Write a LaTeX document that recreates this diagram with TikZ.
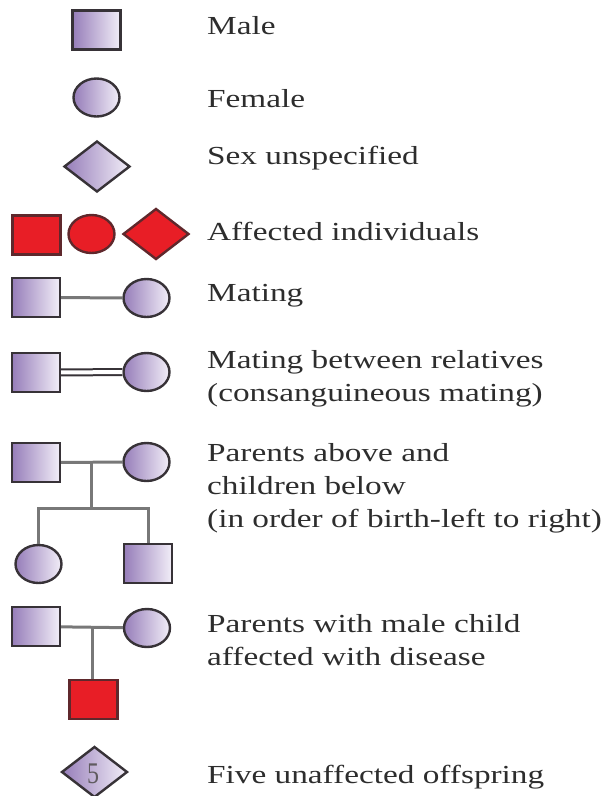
\documentclass[tikz,border=0pt]{standalone}
\usepackage{fontspec}
\setmainfont{Liberation Serif}
\newfontfamily\widefont[FakeStretch=1.28]{Liberation Serif}
\newfontfamily\slimfont[FakeStretch=0.8]{Liberation Serif}
\usepackage{tikz}
\usetikzlibrary{shapes.geometric,calc}

\definecolor{lavdark}{RGB}{150,125,185}
\definecolor{lavlight}{RGB}{242,238,248}
\definecolor{sickred}{RGB}{232,30,38}
\definecolor{rim}{RGB}{55,50,55}
\definecolor{wire}{RGB}{120,120,120}
\definecolor{ink}{RGB}{45,45,45}

\tikzset{
  sym/.style={draw=rim, line width=2.4pt, inner sep=0pt, left color=lavdark, right color=lavlight},
  male/.style={sym, rectangle, minimum width=48pt, minimum height=39pt},
  female/.style={sym, ellipse, minimum width=46pt, minimum height=38pt},
  unknown/.style={sym, diamond, minimum width=66pt, minimum height=51pt},
  affected/.style={fill=sickred, draw=rim!80!red, left color=sickred, right color=sickred},
  link/.style={draw=wire, line width=3pt},
  legend/.style={anchor=west, align=left, text=ink, inner sep=0pt,
    font=\widefont\fontsize{26}{33}\selectfont}
}

\begin{document}
\begin{tikzpicture}[x=1pt, y=-1pt]
    \useasboundingbox (0,0) rectangle (604,796);

    % single symbols
    \node[male] (male) at (96.5,30) {};
    \node[legend] (tmale) at (207,26) {Male};

    \node[female] (female) at (96.5,97.5) {};
    \node[legend] (tfemale) at (207,99) {Female};

    \node[unknown] (unspec) at (97,166.5) {};
    \node[legend] (tunspec) at (207,158) {Sex unspecified};

    \node[male, affected] (affm) at (36.5,235) {};
    \node[female, affected] (afff) at (91.5,234) {};
    \node[unknown, affected] (affu) at (156,234) {};
    \node[legend] (taff) at (207,231) {Affected individuals};

    % mating
    \node[male] (m5) at (36,297.5) {};
    \node[female] (f5) at (146.5,298) {};
    \draw[link] (m5) -- (f5);
    \node[legend] (t5) at (207,296) {Mating};

    \node[male] (m6) at (36,372.5) {};
    \node[female] (f6) at (146.5,372) {};
    \draw[draw=rim, line width=2pt, double=white, double distance=4pt] (m6) -- (f6);
    \node[legend] (t6) at (207,379) {Mating between relatives\\(consanguineous mating)};

    % parents and children
    \node[male] (m7) at (36,462.5) {};
    \node[female] (f7) at (146.5,462) {};
    \node[female] (k1) at (38.5,564) {};
    \node[male] (k2) at (148,563.5) {};
    \draw[link] (m7) -- (f7);
    \coordinate (j7) at ($(m7.east)!0.5!(f7.west)$);
    \coordinate (s7) at (j7 |- 0,508);
    \draw[link] (j7) -- (s7);
    \draw[link] (k1.north) |- (s7) -| (k2.north);
    \node[legend] (t7) at (207,488.5) {Parents above and\\children below\\(in order of birth-left to right)};

    % affected son
    \node[male] (m8) at (36,626.5) {};
    \node[female] (f8) at (147,628) {};
    \draw[link] (m8) -- (f8);
    \coordinate (j8) at ($(m8.east)!0.5!(f8.west)$);
    \node[male, affected] (son) at (93.5,699.5) {};
    \draw[link] (j8) -- (j8 |- son.north);
    \node[legend] (t8) at (207,640.5) {Parents with male child\\affected with disease};

    % offspring count
    \node[unknown] (five) at (94.5,772) {};
    \node[text=rim!80, font=\slimfont\fontsize{30}{30}\selectfont, inner sep=0pt] (nfive) at (93,774) {5};
    \node[legend] (t9) at (207,777) {Five unaffected offspring};
\end{tikzpicture}
\end{document}
